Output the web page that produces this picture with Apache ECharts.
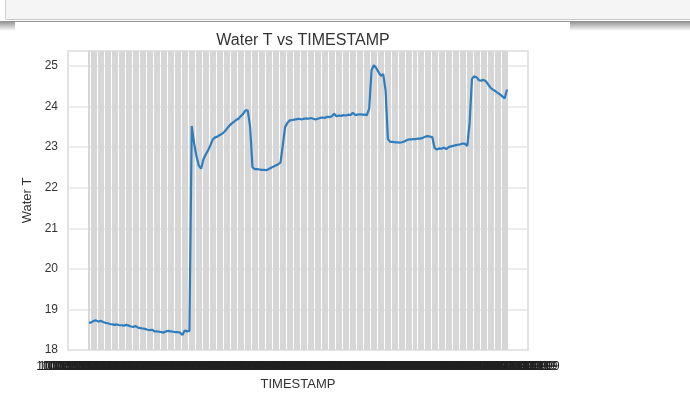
<!DOCTYPE html>
<html>
<head>
<meta charset="utf-8">
<script src="https://cdn.jsdelivr.net/npm/echarts@6/dist/echarts.min.js"></script>
<style>
  html, body { margin: 0; padding: 0; background: #ffffff; width: 690px; height: 409px; overflow: hidden; }
  #hdr { position: absolute; left: 5px; top: 0; width: 690px; height: 19px; background: #f5f5f5; border-left: 1px solid #cfcfcf; border-bottom: 1px solid #c8c8c8; border-bottom-left-radius: 2px; }
  #shadow { position: absolute; left: 0; top: 21px; width: 690px; height: 10px; background: linear-gradient(#8c8c8c, rgba(255,255,255,0)); }
  #panel { position: absolute; left: 15px; top: 22px; width: 555px; height: 387px; background: #ffffff; }
  #chart { position: absolute; left: 0; top: 0; width: 690px; height: 409px; }
</style>
</head>
<body>
<div id="hdr"></div>
<div id="shadow"></div>
<div id="panel"></div>
<div id="chart"></div>
<script>
// ---- data ----
var waterT = [
  18.67, 18.68, 18.72, 18.73, 18.70, 18.72, 18.69, 18.67, 18.66, 18.64,
  18.63, 18.62, 18.63, 18.61, 18.61, 18.60, 18.62, 18.60, 18.58, 18.57,
  18.59, 18.55, 18.54, 18.53, 18.52, 18.50, 18.49, 18.50, 18.46, 18.46,
  18.45, 18.44, 18.43, 18.46, 18.47, 18.46, 18.45, 18.44, 18.44, 18.43,
  18.37, 18.48, 18.46, 18.47, 23.52, 23.10, 22.78, 22.55, 22.47, 22.70,
  22.82, 22.92, 23.05, 23.19, 23.24, 23.26, 23.30, 23.33, 23.38, 23.45,
  23.52, 23.58, 23.62, 23.67, 23.70, 23.76, 23.82, 23.91, 23.90, 23.50,
  22.50, 22.46, 22.46, 22.45, 22.44, 22.44, 22.43, 22.46, 22.49, 22.52,
  22.55, 22.58, 22.62, 23.05, 23.50, 23.60, 23.66, 23.67, 23.68, 23.69,
  23.70, 23.68, 23.70, 23.71, 23.70, 23.72, 23.70, 23.68, 23.70, 23.72,
  23.73, 23.72, 23.75, 23.74, 23.76, 23.82, 23.76, 23.78, 23.77, 23.79,
  23.78, 23.80, 23.79, 23.85, 23.79, 23.80, 23.81, 23.80, 23.80, 23.79,
  23.95, 24.90, 25.02, 24.95, 24.85, 24.76, 24.80, 24.40, 23.20, 23.13,
  23.13, 23.12, 23.12, 23.11, 23.12, 23.14, 23.17, 23.19, 23.19, 23.20,
  23.20, 23.21, 23.21, 23.23, 23.26, 23.27, 23.26, 23.25, 22.98, 22.94,
  22.97, 22.96, 22.99, 22.95, 23.00, 23.02, 23.03, 23.05, 23.06, 23.07,
  23.09, 23.08, 23.03, 23.60, 24.68, 24.75, 24.72, 24.65, 24.64, 24.66,
  24.62, 24.54, 24.46, 24.42, 24.38, 24.34, 24.30, 24.25, 24.20, 24.42
];
// Tick labels are unreadable (they overlap into a solid bar); hourly timestamps assumed.
var timestamps = [];
(function () {
  var t0 = Date.UTC(2017, 9, 5, 8, 0, 19);
  function p(n) { return (n < 10 ? '0' : '') + n; }
  for (var i = 0; i < waterT.length; i++) {
    var d = new Date(t0 + i * 3600 * 1000);
    timestamps.push(p(d.getUTCMonth() + 1) + '/' + p(d.getUTCDate()) + '/' + d.getUTCFullYear() + ' ' +
      p(d.getUTCHours()) + ':' + p(d.getUTCMinutes()) + ':' + p(d.getUTCSeconds()));
  }
})();
var yTicks = [18, 19, 20, 21, 22, 23, 24, 25];
var yMin = 18, yMax = 25.37;
var titleText = 'Water T vs TIMESTAMP';
var xName = 'TIMESTAMP', yName = 'Water T';

// ---- build axis with matplotlib-like 5% margins (padding categories) ----
var PAD = 9;
var cats = [], vals = [];
for (var k = 0; k < PAD; k++) { cats.push('pad_l' + k); vals.push(null); }
for (var i = 0; i < waterT.length; i++) { cats.push(timestamps[i]); vals.push(waterT[i]); }
for (var k = 0; k < PAD; k++) { cats.push('pad_r' + k); vals.push(null); }
function isData(idx) { return idx >= PAD && idx < PAD + waterT.length; }

var chart = echarts.init(document.getElementById('chart'), null, { renderer: 'canvas' });
var FONT = '"Liberation Sans", Arial, sans-serif';
chart.setOption({
  animation: false,
  backgroundColor: 'transparent',
  title: {
    text: titleText, left: 298, top: 28, textAlign: 'center',
    textStyle: { fontFamily: FONT, fontSize: 16, fontWeight: 'normal', color: '#333333' }
  },
  grid: { left: 68, right: 162, top: 51, bottom: 59, show: true, borderColor: '#d9d9d9', borderWidth: 1.5, backgroundColor: 'transparent' },
  xAxis: {
    type: 'category', data: cats, boundaryGap: false,
    name: xName, nameLocation: 'middle', nameGap: 28,
    nameTextStyle: { fontFamily: FONT, fontSize: 13, color: '#333333' },
    axisLine: { show: false }, axisTick: { show: false },
    axisLabel: {
      interval: function (idx) { return isData(idx); },
      margin: 11, fontFamily: FONT, fontSize: 12, color: '#222222', hideOverlap: false
    },
    splitLine: { show: true, interval: function (idx) { return isData(idx); }, lineStyle: { color: '#d6d6d6', width: 2 } }
  },
  yAxis: {
    type: 'value', min: yMin, max: yMax, interval: 1,
    name: yName, nameLocation: 'middle', nameGap: 28,
    nameTextStyle: { fontFamily: FONT, fontSize: 13, color: '#333333' },
    axisLine: { show: false }, axisTick: { show: false },
    axisLabel: {
      margin: 10, fontFamily: FONT, fontSize: 12, color: '#333333', showMaxLabel: false,
      formatter: function (v) { return yTicks.indexOf(v) >= 0 ? String(v) : ''; }
    },
    splitLine: { show: true, lineStyle: { color: '#e4e4e4', width: 1.5 } }
  },
  series: [{
    type: 'line', data: vals, showSymbol: false, connectNulls: false,
    lineStyle: { color: '#2f7dbd', width: 2.2 }, z: 5
  }]
});
</script>
</body>
</html>
